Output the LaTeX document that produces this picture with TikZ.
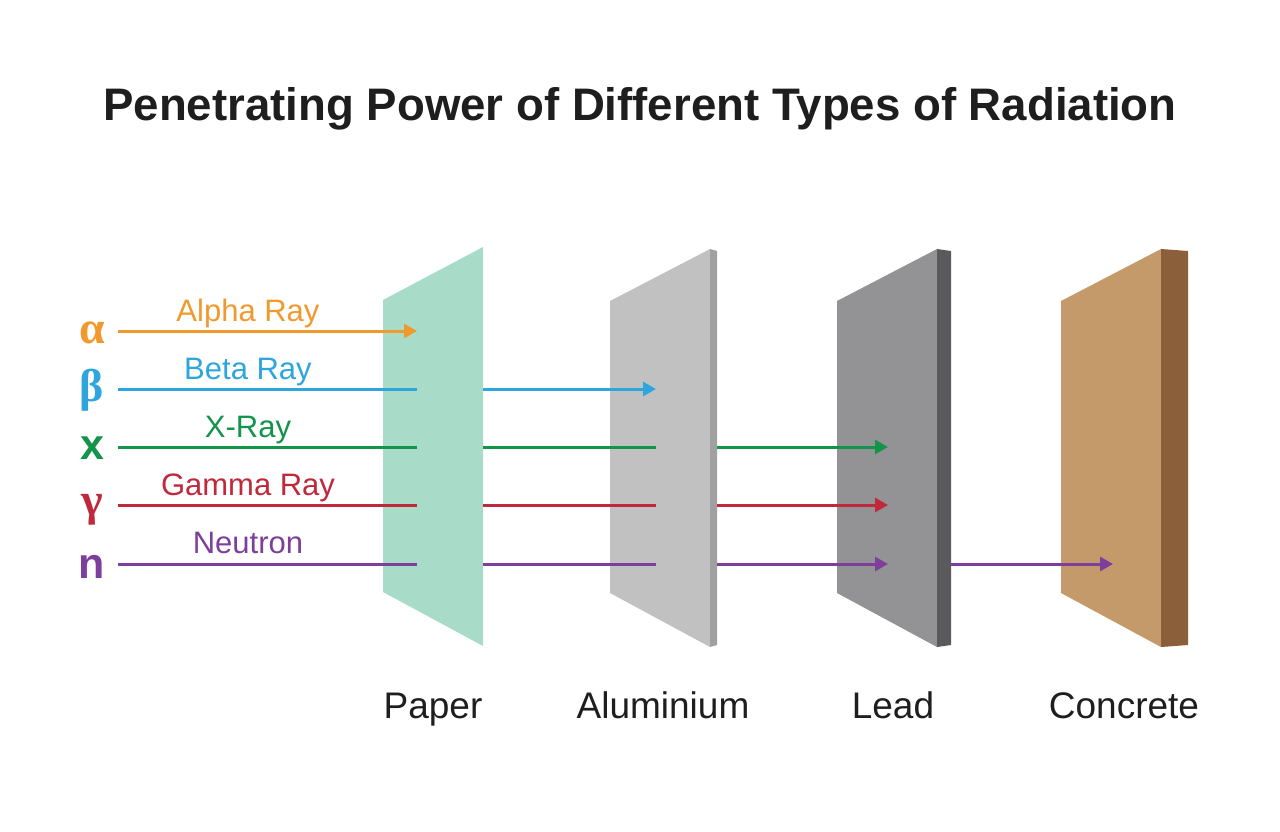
\documentclass[tikz,border=0pt]{standalone}
\usepackage{fontspec}
\setmainfont{Liberation Sans}
\newfontfamily\greekfont{Liberation Serif}
\usetikzlibrary{arrows.meta}
\definecolor{alphac}{HTML}{F09A2E}
\definecolor{betac}{HTML}{2EA6DD}
\definecolor{xrayc}{HTML}{14934A}
\definecolor{gammac}{HTML}{C0283C}
\definecolor{neutc}{HTML}{7E3F9C}
\definecolor{paperc}{HTML}{A8DCC9}
\definecolor{alface}{HTML}{C1C1C1}
\definecolor{alside}{HTML}{A0A0A0}
\definecolor{pbface}{HTML}{939396}
\definecolor{pbside}{HTML}{5A5A5C}
\definecolor{coface}{HTML}{C49A6B}
\definecolor{coside}{HTML}{8C5F3B}
\definecolor{inkc}{HTML}{1E1E1E}
\begin{document}
\begin{tikzpicture}[x=1pt,y=-1pt,
  ray/.style={line width=3pt},
  tipped/.style={-{Triangle[length=13pt,width=14pt]}},
  raylabel/.style={anchor=base, inner sep=0pt, font=\fontsize{31}{36}\selectfont},
  greeksym/.style={anchor=base, inner sep=0pt, font=\greekfont\bfseries\fontsize{46}{52}\selectfont},
  latinsym/.style={anchor=base, inner sep=0pt, font=\bfseries\fontsize{43}{50}\selectfont},
  matlabel/.style={anchor=base, inner sep=0pt, text=inkc, font=\fontsize{37}{44}\selectfont}]
\useasboundingbox (0,0) rectangle (1280,831);
\fill[white] (0,0) rectangle (1280,831);

% title
\node[anchor=base, inner sep=0pt, text=inkc, font=\bfseries\fontsize{45.6}{54}\selectfont] (title) at (640,120) {Penetrating Power of Different Types of Radiation};

% plates
\fill[paperc] (383,300) -- (483,247) -- (483,646) -- (383,592) -- cycle;
\fill[alface] (610,301) -- (710,249) -- (710,647) -- (610,593) -- cycle;
\fill[alside] (710,249) -- (717,251) -- (717,645) -- (710,647) -- cycle;
\fill[pbface] (837,301) -- (937,249) -- (937,647) -- (837,593) -- cycle;
\fill[pbside] (937,249) -- (951,251) -- (951,645) -- (937,647) -- cycle;
\fill[coface] (1061,301) -- (1161,249) -- (1161,647) -- (1061,593) -- cycle;
\fill[coside] (1161,249) -- (1188,251) -- (1188,645) -- (1161,647) -- cycle;

% symbols
\node[greeksym, text=alphac] (sa) at (92,343) {α};
\node[greeksym, text=betac] (sb) at (92,401) {β};
\node[latinsym, text=xrayc] (sx) at (92,459) {x};
\node[greeksym, text=gammac] (sg) at (92,515) {γ};
\node[latinsym, text=neutc] (sn) at (92,578) {n};

% ray labels
\node[raylabel, text=alphac] (la) at (248,321) {Alpha Ray};
\node[raylabel, text=betac] (lb) at (248,379) {Beta Ray};
\node[raylabel, text=xrayc] (lx) at (248,437) {X-Ray};
\node[raylabel, text=gammac] (lg) at (248,495) {Gamma Ray};
\node[raylabel, text=neutc] (ln) at (248,553) {Neutron};

% coordinates
\foreach \n/\y in {a/331,b/389,x/447,g/505,n/564}{
  \coordinate (s\n) at (118,\y);
  \coordinate (p\n) at (417,\y);
  \coordinate (q\n) at (483,\y);
  \coordinate (m\n) at (656,\y);
  \coordinate (r\n) at (717,\y);
  \coordinate (l\n) at (888,\y);
  \coordinate (t\n) at (951,\y);
  \coordinate (c\n) at (1113,\y);
}

% rays
\draw[ray, tipped, alphac] (sa) -- (pa);

\draw[ray, betac] (sb) -- (pb);
\draw[ray, tipped, betac] (qb) -- (mb);

\draw[ray, xrayc] (sx) -- (px);
\draw[ray, xrayc] (qx) -- (mx);
\draw[ray, tipped, xrayc] (rx) -- (lx);

\draw[ray, gammac] (sg) -- (pg);
\draw[ray, gammac] (qg) -- (mg);
\draw[ray, tipped, gammac] (rg) -- (lg);

\draw[ray, neutc] (sn) -- (pn);
\draw[ray, neutc] (qn) -- (mn);
\draw[ray, tipped, neutc] (rn) -- (ln);
\draw[ray, tipped, neutc] (tn) -- (cn);

% material labels
\node[matlabel] (mp) at (433,718) {Paper};
\node[matlabel] (ma) at (663,718) {Aluminium};
\node[matlabel] (ml) at (893,718) {Lead};
\node[matlabel] (mc) at (1124,718) {Concrete};
\end{tikzpicture}
\end{document}
